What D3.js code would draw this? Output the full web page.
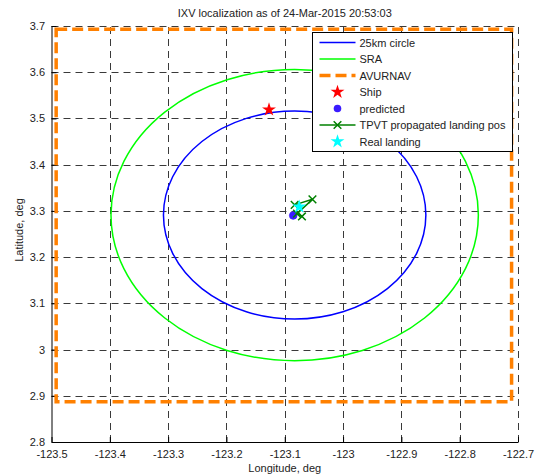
<!DOCTYPE html>
<html>
<head>
<meta charset="utf-8">
<script src="https://cdn.jsdelivr.net/npm/d3@7"></script>
<style>
body { margin: 0; background: #fff; }
svg { display: block; font-family: "Liberation Sans", Arial, sans-serif; }
</style>
</head>
<body>
<svg width="540" height="474"></svg>
<script>
// tick values and labels
let lonTicks = [-123.5, -123.4, -123.3, -123.2, -123.1, -123, -122.9, -122.8, -122.7];
let lonLabels = ["-123.5", "-123.4", "-123.3", "-123.2", "-123.1", "-123", "-122.9", "-122.8", "-122.7"];
let latTicks = [2.8, 2.9, 3, 3.1, 3.2, 3.3, 3.4, 3.5, 3.6, 3.7];
let latLabels = ["2.8", "2.9", "3", "3.1", "3.2", "3.3", "3.4", "3.5", "3.6", "3.7"];

// circles: center (lon, lat) and radius in degrees
let circleCenter = [-123.083, 3.291];
let circle25Radius = 0.225;   // 25km circle
let sraRadius = 0.315;        // SRA

// AVURNAV box corners
let avurnavLon = [-123.492, -122.711];
let avurnavLat = [2.887, 3.693];

// points
let ship = [-123.127, 3.519];
let predicted = [-123.0855, 3.290];
let tpvt = [[-123.083, 3.313], [-123.0525, 3.325], [-123.079, 3.294], [-123.0705, 3.288]];
let realLanding = [-123.0752, 3.309];

let svg = d3.select("svg");
let mLeft = 51.5, mRight = 518, mTop = 26, mBottom = 442;
let x = d3.scaleLinear().domain([-123.5, -122.7]).range([mLeft, mRight]);
let y = d3.scaleLinear().domain([2.8, 3.7]).range([mBottom, mTop]);
let line = d3.line().x(d => x(d[0])).y(d => y(d[1]));

// grid
let grid = svg.append("g").attr("stroke", "#3a3a3a").attr("stroke-width", 1)
  .attr("stroke-dasharray", "7,5").attr("fill", "none");
grid.selectAll(".gx").data(lonTicks.slice(1)).enter().append("line")
  .attr("x1", d => Math.round(x(d)) + 0.5).attr("x2", d => Math.round(x(d)) + 0.5)
  .attr("y1", mBottom).attr("y2", mTop);
grid.selectAll(".gy").data(latTicks.slice(1)).enter().append("line")
  .attr("y1", d => Math.round(y(d)) + 0.5).attr("y2", d => Math.round(y(d)) + 0.5)
  .attr("x1", mLeft).attr("x2", mRight);

// axes (left and bottom solid)
let axisX = d3.axisBottom(x).tickValues(lonTicks).tickFormat((d, i) => lonLabels[i])
  .tickSizeInner(-5).tickSizeOuter(0).tickPadding(8);
let axisY = d3.axisLeft(y).tickValues(latTicks).tickFormat((d, i) => latLabels[i])
  .tickSizeInner(-5).tickSizeOuter(0).tickPadding(6.5);
let gx = svg.append("g").attr("transform", `translate(0, ${mBottom})`).call(axisX);
let gy = svg.append("g").attr("transform", `translate(${mLeft}, 0)`).call(axisY);
[gx, gy].forEach(g => {
  g.select(".domain").attr("stroke", "#000");
  g.selectAll("line").attr("stroke", "#000");
  g.selectAll("text").attr("font-size", 11).attr("fill", "#222")
    .attr("font-family", "Liberation Sans, Arial, sans-serif");
});

// AVURNAV rectangle
svg.append("rect")
  .attr("x", x(avurnavLon[0])).attr("y", y(avurnavLat[1]))
  .attr("width", x(avurnavLon[1]) - x(avurnavLon[0]))
  .attr("height", y(avurnavLat[0]) - y(avurnavLat[1]))
  .attr("fill", "none").attr("stroke", "#ff8000").attr("stroke-width", 3.5)
  .attr("stroke-dasharray", "11,5");

// 25km circle and SRA
function drawCircle(r, color) {
  svg.append("ellipse")
    .attr("cx", x(circleCenter[0])).attr("cy", y(circleCenter[1]))
    .attr("rx", x(circleCenter[0] + r) - x(circleCenter[0]))
    .attr("ry", y(circleCenter[1]) - y(circleCenter[1] + r))
    .attr("fill", "none").attr("stroke", color).attr("stroke-width", 1.5);
}
drawCircle(circle25Radius, "#0000ff");
drawCircle(sraRadius, "#00ff00");

// markers
let star = d3.symbol().type(d3.symbolStar);
svg.append("path").attr("d", star.size(60)())
  .attr("transform", `translate(${x(ship[0])}, ${y(ship[1])})`).attr("fill", "#ff0000");
svg.append("circle").attr("cx", x(predicted[0])).attr("cy", y(predicted[1])).attr("r", 3.8)
  .attr("fill", "#3a1bff").attr("stroke", "#3a1bff").attr("stroke-width", 0.8);
svg.append("path").datum(tpvt).attr("d", line)
  .attr("fill", "none").attr("stroke", "#008000").attr("stroke-width", 1.5);
let cross = d3.symbol().type(d3.symbolX).size(40);
svg.selectAll(".tpvt").data(tpvt).enter().append("path")
  .attr("d", cross())
  .attr("transform", d => `translate(${x(d[0])}, ${y(d[1])})`)
  .attr("fill", "none").attr("stroke", "#008000").attr("stroke-width", 1.5);
svg.append("path").attr("d", star.size(60)())
  .attr("transform", `translate(${x(realLanding[0])}, ${y(realLanding[1])})`).attr("fill", "#00ffff");

// title and axis labels
svg.append("text").attr("x", (mLeft + mRight) / 2).attr("y", 17).attr("text-anchor", "middle")
  .attr("font-size", 11).attr("fill", "#222").text("IXV localization as of 24-Mar-2015 20:53:03");
svg.append("text").attr("x", (mLeft + mRight) / 2).attr("y", 472).attr("text-anchor", "middle")
  .attr("font-size", 11).attr("fill", "#222").text("Longitude, deg");
svg.append("text").attr("transform", "translate(23, 230) rotate(-90)")
  .attr("text-anchor", "middle").attr("font-size", 11).attr("fill", "#222").text("Latitude, deg");

// legend
let legendNames = ["25km circle", "SRA", "AVURNAV", "Ship", "predicted", "TPVT propagated landing pos", "Real landing"];
let lg = svg.append("g").attr("transform", "translate(312.5, 32.5)");
lg.append("rect").attr("width", 200).attr("height", 119).attr("fill", "#fff").attr("stroke", "#000");
legendNames.forEach((name, i) => {
  let cy = 10 + i * 16.5;
  let row = lg.append("g").attr("transform", `translate(0, ${cy})`);
  if (i === 0) row.append("line").attr("x1", 7).attr("x2", 43).attr("stroke", "#0000ff").attr("stroke-width", 1.5);
  if (i === 1) row.append("line").attr("x1", 7).attr("x2", 43).attr("stroke", "#00ff00").attr("stroke-width", 1.5);
  if (i === 2) row.append("line").attr("x1", 7).attr("x2", 43).attr("stroke", "#ff8000")
    .attr("stroke-width", 3.5).attr("stroke-dasharray", "11,5");
  if (i === 3) row.append("path").attr("d", star.size(60)()).attr("transform", "translate(25, 0)").attr("fill", "#ff0000");
  if (i === 4) row.append("circle").attr("cx", 25).attr("r", 3.8).attr("fill", "#3a1bff");
  if (i === 5) {
    row.append("line").attr("x1", 7).attr("x2", 43).attr("stroke", "#008000").attr("stroke-width", 1.5);
    row.append("path").attr("d", cross()).attr("transform", "translate(25, 0)")
      .attr("fill", "none").attr("stroke", "#008000").attr("stroke-width", 1.5);
  }
  if (i === 6) row.append("path").attr("d", star.size(60)()).attr("transform", "translate(25, 0)").attr("fill", "#00ffff");
  row.append("text").attr("x", 47).attr("y", 4).attr("font-size", 11).attr("fill", "#222").text(name);
});
</script>
</body>
</html>
